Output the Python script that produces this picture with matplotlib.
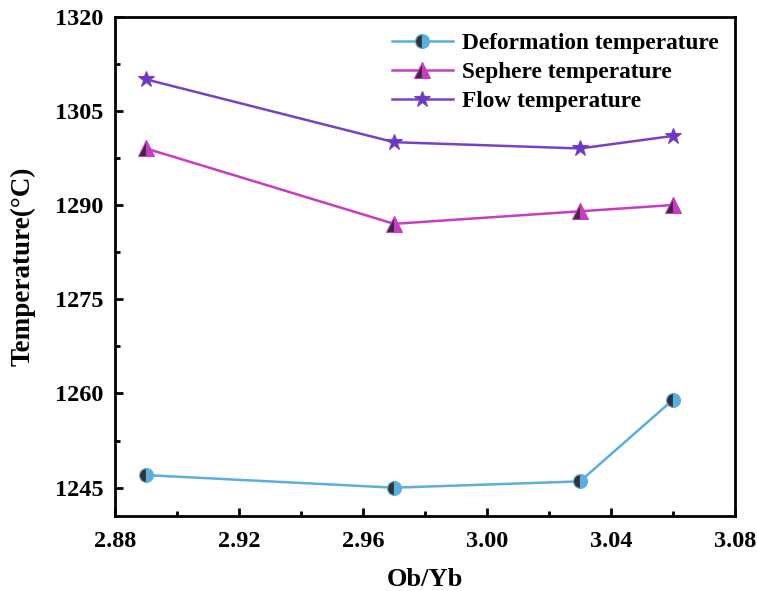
import matplotlib.pyplot as plt
from matplotlib.ticker import MultipleLocator

plt.rcParams['font.family'] = ['Liberation Serif', 'DejaVu Serif']
plt.rcParams['font.weight'] = 'bold'

ob_yb = [2.89, 2.97, 3.03, 3.06]
deformation = [1247, 1245, 1246, 1259]
sephere = [1299, 1287, 1289, 1290]
flow = [1310, 1300, 1299, 1301]

x_ticks = [2.88, 2.92, 2.96, 3.00, 3.04, 3.08]
y_ticks = [1245, 1260, 1275, 1290, 1305, 1320]

fig = plt.figure(figsize=(7.57, 5.91), dpi=100)
ax = fig.add_axes([0.152, 0.127, 0.819, 0.845])

ax.plot(ob_yb, deformation, color='#5aaee0', lw=1.8, marker='o', ms=10,
        fillstyle='left', markerfacecolor='#333333', markerfacecoloralt='#5aaee0',
        markeredgecolor='#5aaee0', markeredgewidth=0.8, label='Deformation temperature')
ax.plot(ob_yb, sephere, color='#c83cc4', lw=1.8, marker='^', ms=11,
        fillstyle='left', markerfacecolor='#3a2a3a', markerfacecoloralt='#c83cc4',
        markeredgecolor='#c83cc4', markeredgewidth=0.8, label='Sephere temperature')
ax.plot(ob_yb, flow, color='#7a40c8', lw=1.8, marker='*', ms=12,
        markerfacecolor='#6a38c0', markeredgecolor='#7a40c8', markeredgewidth=0.8,
        label='Flow temperature')

ax.set_xlim(2.88, 3.08)
ax.set_ylim(1240.5, 1320)
ax.set_xticks(x_ticks)
ax.set_xticklabels([f'{v:.2f}' for v in x_ticks])
ax.set_yticks(y_ticks)
ax.xaxis.set_minor_locator(MultipleLocator(0.02))
ax.yaxis.set_minor_locator(MultipleLocator(7.5))

ax.tick_params(axis='both', which='major', direction='in', length=6, width=2,
               labelsize=17.5)
ax.tick_params(axis='x', which='major', pad=10.5)
ax.tick_params(axis='y', which='major', pad=8.5)
ax.tick_params(axis='both', which='minor', direction='in', length=3.5, width=2)
ax.tick_params(top=False, right=False, which='both')
for s in ax.spines.values():
    s.set_linewidth(2)

for lab in ax.get_xticklabels() + ax.get_yticklabels():
    lab.set_fontweight('bold')

ax.set_xlabel('Ob/Yb', fontsize=19, fontweight='bold', labelpad=12)
ax.set_ylabel('Temperature(\u00b0C)', fontsize=19.5, fontweight='bold', labelpad=14)

ax.legend(loc='upper right', frameon=False, prop={'size': 16.8, 'weight': 'bold'},
          handlelength=2.6, handletextpad=0.4, labelspacing=0.32,
          borderaxespad=0.3, bbox_to_anchor=(1.0, 1.0))

fig.savefig('out.png', dpi=100)
